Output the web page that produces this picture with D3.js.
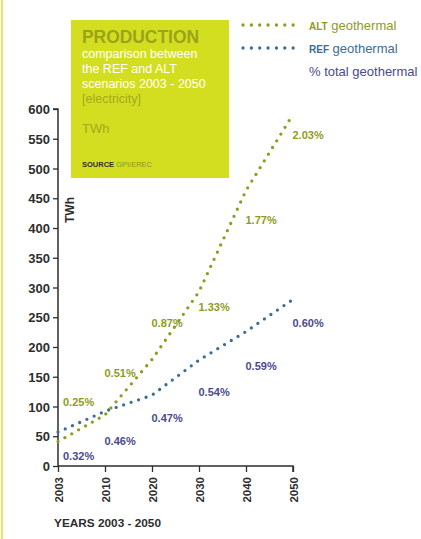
<!DOCTYPE html>
<html><head><meta charset="utf-8">
<script src="https://cdn.jsdelivr.net/npm/d3@7"></script>
<style>
html,body{margin:0;padding:0;background:#fff;}
svg{display:block;font-family:"Liberation Sans",Arial,sans-serif;}
</style></head>
<body>
<svg id="chart" width="421" height="539"></svg>
<script>
const years = [2003, 2010, 2020, 2030, 2040, 2050];
const altValues = [41, 86, 179, 293, 463, 591];
const refValues = [57, 92, 119, 178, 226, 280];
const altPct = ["0.25%", "0.51%", "0.87%", "1.33%", "1.77%", "2.03%"];
const refPct = ["0.32%", "0.46%", "0.47%", "0.54%", "0.59%", "0.60%"];
const yTicks = [0, 50, 100, 150, 200, 250, 300, 350, 400, 450, 500, 550, 600];
const legendLabels = [["ALT", " geothermal"], ["REF", " geothermal"], ["", "% total geothermal"]];

const ALT = "#8f9b1c", REF = "#3a6d97", PCT = "#4a4a8c", DARK = "#2e2e2e";
const svg = d3.select("#chart");

// left border line
svg.append("line").attr("x1", 2).attr("x2", 2).attr("y1", 0).attr("y2", 539)
  .attr("stroke", "#dbe33c").attr("stroke-width", 1.6);

// title box
svg.append("rect").attr("x", 71).attr("y", 20).attr("width", 158).attr("height", 158).attr("fill", "#d4de21");
const tb = svg.append("g");
tb.append("text").attr("x", 82).attr("y", 43).attr("font-size", 19).attr("font-weight", "bold")
  .attr("fill", "#99a41a").attr("textLength", 117).attr("lengthAdjust", "spacingAndGlyphs").text("PRODUCTION");
["comparison between", "the REF and ALT", "scenarios 2003 - 2050"].forEach((t, i) => {
  tb.append("text").attr("x", 82).attr("y", 58 + i * 15).attr("font-size", 12.5).attr("fill", "#fff").text(t);
});
tb.append("text").attr("x", 82).attr("y", 103).attr("font-size", 12.5).attr("fill", "#a2ab1c").text("[electricity]");
tb.append("text").attr("x", 82).attr("y", 133).attr("font-size", 13).attr("fill", "#a2ab1c").text("TWh");
const src = tb.append("text").attr("x", 82).attr("y", 167).attr("font-size", 7.5);
src.append("tspan").attr("font-weight", "bold").attr("fill", DARK).text("SOURCE");
src.append("tspan").attr("fill", "#8a941a").text(" GPI/EREC");

// scales
const x = d3.scalePoint().domain(years).range([58, 293]);
const y = d3.scaleLinear().domain([0, 600]).range([466, 109]);

// axes
const yAxis = svg.append("g").attr("transform", "translate(58,0)")
  .call(d3.axisLeft(y).tickValues(yTicks).tickSize(5).tickPadding(3));
const xAxis = svg.append("g").attr("transform", "translate(0,466)")
  .call(d3.axisBottom(x).tickSize(6).tickPadding(4));
[yAxis, xAxis].forEach(g => {
  g.select(".domain").attr("stroke", DARK).attr("stroke-width", 1.5);
  g.selectAll(".tick line").attr("stroke", DARK).attr("stroke-width", 1.3);
  g.selectAll("text").attr("fill", DARK).attr("font-weight", "bold").attr("font-family", "Liberation Sans, Arial, sans-serif");
});
yAxis.select(".domain").attr("d", "M-5," + y(600) + "H0V" + y(0));
xAxis.select(".domain").attr("d", "M58,0H293V6");
yAxis.selectAll("text").attr("font-size", 13).attr("dy", "0.36em");
xAxis.selectAll("text").attr("font-size", 11.5)
  .attr("transform", "rotate(-90)").attr("text-anchor", "end")
  .attr("x", -11).attr("y", 0).attr("dy", "0.36em");

// axis titles
svg.append("text").attr("transform", "translate(74,210) rotate(-90)").attr("text-anchor", "middle")
  .attr("font-size", 12).attr("font-weight", "bold").attr("fill", DARK).text("TWh");
svg.append("text").attr("x", 54).attr("y", 527).attr("font-size", 11.5).attr("font-weight", "bold")
  .attr("fill", DARK).attr("textLength", 107).attr("lengthAdjust", "spacingAndGlyphs").text("YEARS 2003 - 2050");

// dotted lines
const line = d3.line().x(d => x(d[0])).y(d => y(d[1]));
function dotted(vals, color) {
  svg.append("path").datum(years.map((yr, i) => [yr, vals[i]]))
    .attr("d", line).attr("fill", "none").attr("stroke", color)
    .attr("stroke-width", 3.3).attr("stroke-linecap", "round").attr("stroke-dasharray", "0,7.9");
}
dotted(refValues, REF);
dotted(altValues, ALT);

// percentage labels
const altLabelY = [406, 377, 327, 310.5, 224, 139];
const refLabelY = [460, 445, 421.7, 395.7, 370, 327];
function pctLabels(labels, ys, color) {
  svg.append("g").selectAll("text").data(labels).join("text")
    .attr("x", (d, i) => x(years[i]) + (i === 0 ? 5 : -0.5)).attr("y", (d, i) => ys[i])
    .attr("font-size", 11).attr("font-weight", "bold").attr("fill", color).text(d => d);
}
pctLabels(altPct, altLabelY, ALT);
pctLabels(refPct, refLabelY, PCT);

// legend
const legColors = [ALT, REF];
legColors.forEach((c, i) => {
  svg.append("line").attr("x1", 243).attr("x2", 293.2).attr("y1", 25 + i * 23).attr("y2", 25 + i * 23)
    .attr("stroke", c).attr("stroke-width", 3.3).attr("stroke-linecap", "round").attr("stroke-dasharray", "0,8.36");
});
const legTextColors = [ALT, REF, PCT];
legendLabels.forEach((l, i) => {
  const t = svg.append("text").attr("x", 309).attr("y", 30 + i * 23).attr("font-size", 13).attr("fill", legTextColors[i]);
  if (l[0]) t.append("tspan").attr("font-size", 10).attr("font-weight", "bold").text(l[0]);
  t.append("tspan").text(l[1]);
});
</script>
</body></html>
